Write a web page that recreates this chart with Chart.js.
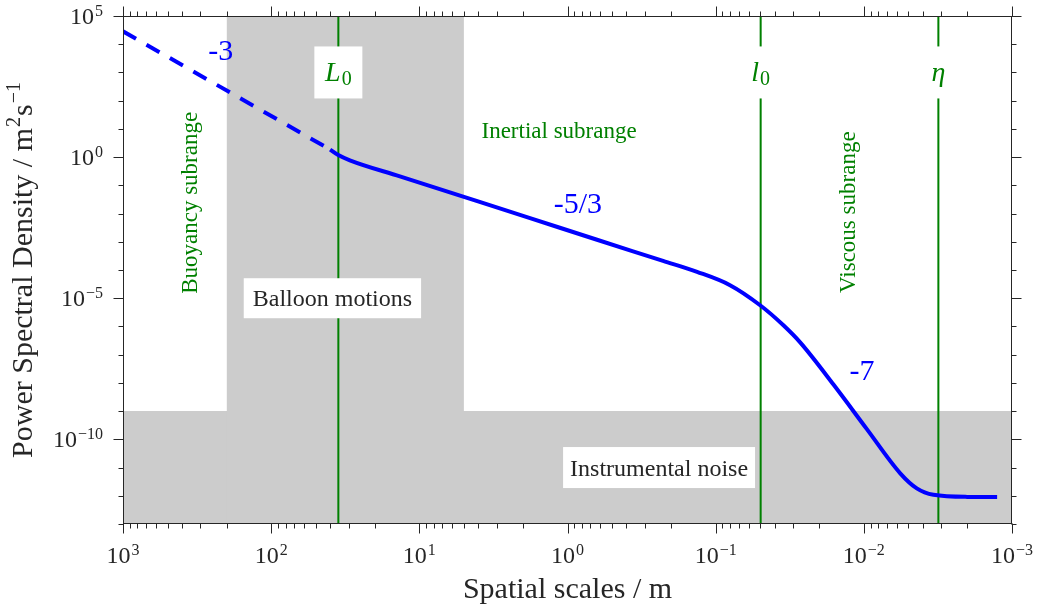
<!DOCTYPE html>
<html>
<head>
<meta charset="utf-8">
<title>Power spectral density vs spatial scale</title>
<script src="https://cdn.jsdelivr.net/npm/chart.js@4.4.1/dist/chart.umd.min.js"></script>
<style>
  html, body { margin: 0; padding: 0; background: #ffffff; }
  #wrap { width: 1039px; height: 608px; }
</style>
</head>
<body>
<div id="wrap"><canvas id="psd" width="1039" height="608"></canvas></div>
<script>
// Model turbulence spectrum: spatial scale (m) -> power spectral density (m^2 s^-1)
const spatialScale = [40, 35.5, 29.44, 13.53, 5.0, 1.79, 0.632, 0.2265, 0.1335, 0.080, 0.0501,
  0.0349, 0.0269, 0.01603, 0.00954, 0.00568, 0.00439, 0.00339, 0.00201, 0.00126];
const spectralDensity = [1.85, 1.21, 0.773, 0.2085, 0.0389, 0.00687, 0.00118, 2.10e-4, 8.6e-5, 2.9e-5, 5.64e-6,
  1.10e-6, 2.73e-7, 8.77e-9, 2.30e-10, 6.26e-12, 1.83e-12, 1.08e-12, 9.14e-13, 9.1e-13];

// Buoyancy range extension (k^-3), drawn dashed
const buoyancyScale = [1000, 40];
const buoyancyDensity = [28600, 1.85];

// Characteristic scales (m): outer scale L0, inner scale l0, Kolmogorov scale eta
const outerScale = 35.2;
const innerScale = 0.0497;
const kolmogorovScale = 0.00314;

// Shaded regions
const balloonRange = [200, 5];     // scales affected by balloon motions (m)
const noiseFloor = 1e-9;           // instrumental noise level

// Axis limits and labelled decades
const xLimits = [1e-3, 1e3];
const yLimits = [1e-13, 1e5];
const xTickExponents = [3, 2, 1, 0, -1, -2, -3];
const yTickExponents = [5, 0, -5, -10];

const SERIF = '"Liberation Serif", "DejaVu Serif", serif';
const INK = '#262626';
const GREEN = '#008000';
const BLUE = '#0000ff';
const SHADE = '#cccccc';

const pts = (xs, ys) => xs.map((x, i) => ({ x, y: ys[i] }));
const vline = (x) => [{ x, y: yLimits[1] }, { x, y: yLimits[0] }];

function fontOf(size, italic) {
  return (italic ? 'italic ' : '') + size + 'px ' + SERIF;
}

// Draws a run of text pieces (with sub/superscripts) starting at x or centred on it.
function drawRich(ctx, segs, x, baseline, align) {
  let w = 0;
  segs.forEach(s => { ctx.font = fontOf(s.size, s.italic); s.w = ctx.measureText(s.t).width; w += s.w + (s.gap || 0); });
  let xx = align === 'center' ? x - w / 2 : align === 'right' ? x - w : x;
  ctx.textAlign = 'left';
  ctx.textBaseline = 'alphabetic';
  segs.forEach(s => {
    xx += (s.gap || 0);
    ctx.font = fontOf(s.size, s.italic);
    ctx.fillText(s.t, xx, baseline + (s.dy || 0));
    xx += s.w;
  });
  return w;
}

function powerSegs(exp) {
  const sup = exp < 0 ? '\u2212' + Math.abs(exp) : String(exp);
  return [{ t: '10', size: 24 }, { t: sup, size: 16, dy: -8, gap: 1 }];
}

// Text labels placed in data coordinates
const notes = [
  { segs: [{ t: '-3', size: 30 }], x: 219, y: 6.5e3, color: BLUE },
  { segs: [{ t: '-5/3', size: 30 }], x: 0.85, y: 0.024, color: BLUE },
  { segs: [{ t: '-7', size: 30 }], x: 0.0103, y: 2.75e-8, color: BLUE },
  { segs: [{ t: 'Inertial subrange', size: 23 }], x: 1.14, y: 11, color: GREEN },
  { segs: [{ t: 'Buoyancy subrange', size: 23 }], x: 353, y: 0.024, color: GREEN, rotate: true },
  { segs: [{ t: 'Viscous subrange', size: 23 }], x: 0.0128, y: 0.0112, color: GREEN, rotate: true },
];

const boxedNotes = [
  { segs: [{ t: 'Balloon motions', size: 24 }], x: 38.6, y: 1e-5, color: INK, pad: 9, h: 40 },
  { segs: [{ t: 'Instrumental noise', size: 24 }], x: 0.241, y: 1e-11, color: INK, pad: 7, h: 41 },
];

const scaleMarks = [
  { segs: [{ t: 'L', size: 28, italic: true }, { t: '0', size: 20, dy: 4, gap: 1 }], x: outerScale, y: 1e3 },
  { segs: [{ t: 'l', size: 28, italic: true }, { t: '0', size: 20, dy: 4, gap: 1 }], x: innerScale, y: 1e3 },
  { segs: [{ t: '\u03b7', size: 28, italic: true }], x: kolmogorovScale, y: 1e3 },
];

const decorPlugin = {
  id: 'decor',
  afterDatasetsDraw(chart) {
    const { ctx, chartArea: a, scales: { x, y } } = chart;
    ctx.save();

    // boxed region labels
    boxedNotes.forEach(n => {
      const cx = x.getPixelForValue(n.x), cy = y.getPixelForValue(n.y);
      let w = 0;
      n.segs.forEach(s => { ctx.font = fontOf(s.size, s.italic); w += ctx.measureText(s.t).width; });
      ctx.fillStyle = '#ffffff';
      ctx.fillRect(cx - w / 2 - n.pad, cy - n.h / 2, w + 2 * n.pad, n.h);
      ctx.fillStyle = n.color;
      drawRich(ctx, n.segs, cx, cy + 8, 'center');
    });

    // characteristic-scale labels sitting on the vertical lines
    scaleMarks.forEach(m => {
      const cx = x.getPixelForValue(m.x), cy = y.getPixelForValue(m.y);
      ctx.fillStyle = '#ffffff';
      ctx.fillRect(cx - 24, cy - 26, 48, 52);
      ctx.fillStyle = GREEN;
      drawRich(ctx, m.segs, cx, cy + 9, 'center');
    });

    // slope and range annotations
    notes.forEach(n => {
      const cx = x.getPixelForValue(n.x), cy = y.getPixelForValue(n.y);
      ctx.fillStyle = n.color;
      if (n.rotate) {
        ctx.save();
        ctx.translate(cx, cy);
        ctx.rotate(-Math.PI / 2);
        drawRich(ctx, n.segs, 0, 7, 'center');
        ctx.restore();
      } else {
        drawRich(ctx, n.segs, cx, cy + 10, 'center');
      }
    });

    // axes box
    ctx.strokeStyle = INK;
    ctx.lineWidth = 1;
    const L = Math.round(a.left) + 0.5, R = Math.round(a.right) - 0.5;
    const T = Math.round(a.top) + 0.5, B = Math.round(a.bottom) - 0.5;
    ctx.strokeRect(L, T, R - L, B - T);

    // x ticks (outward, top and bottom)
    ctx.beginPath();
    const e0 = Math.log10(xLimits[0]), e1 = Math.log10(xLimits[1]);
    for (let e = e0; e <= e1; e++) {
      for (let m = 1; m <= 9; m++) {
        if (e === e1 && m > 1) break;
        const v = m * Math.pow(10, e);
        const px = Math.round(x.getPixelForValue(v)) + 0.5;
        const len = m === 1 ? 10 : 5;
        ctx.moveTo(px, B); ctx.lineTo(px, B + len);
        ctx.moveTo(px, T); ctx.lineTo(px, T - len);
      }
    }
    // y ticks (outward, left and right), one per decade
    const f0 = Math.log10(yLimits[0]), f1 = Math.log10(yLimits[1]);
    for (let e = f0; e <= f1; e++) {
      const py = Math.round(y.getPixelForValue(Math.pow(10, e))) + 0.5;
      const len = yTickExponents.includes(e) ? 10 : 5;
      ctx.moveTo(L, py); ctx.lineTo(L - len, py);
      ctx.moveTo(R, py); ctx.lineTo(R + len, py);
    }
    ctx.stroke();

    // tick labels
    ctx.fillStyle = INK;
    xTickExponents.forEach(e => {
      const px = x.getPixelForValue(Math.pow(10, e));
      drawRich(ctx, powerSegs(e), px, 563, 'center');
    });
    yTickExponents.forEach(e => {
      const py = y.getPixelForValue(Math.pow(10, e));
      drawRich(ctx, powerSegs(e), a.left - 20, py + 8, 'right');
    });

    // axis titles
    drawRich(ctx, [{ t: 'Spatial scales / m', size: 30 }], (a.left + a.right) / 2, 598, 'center');
    ctx.save();
    ctx.translate(32, (a.top + a.bottom) / 2);
    ctx.rotate(-Math.PI / 2);
    drawRich(ctx, [
      { t: 'Power Spectral Density / m', size: 30 },
      { t: '2', size: 20, dy: -12, gap: 1 },
      { t: 's', size: 30, gap: 1 },
      { t: '\u22121', size: 20, dy: -12, gap: 1 },
    ], 0, 0, 'center');
    ctx.restore();

    ctx.restore();
  }
};

new Chart(document.getElementById('psd'), {
  type: 'line',
  data: {
    datasets: [
      {
        label: 'Spectrum',
        data: pts(spatialScale, spectralDensity),
        borderColor: BLUE, borderWidth: 4, pointRadius: 0,
        cubicInterpolationMode: 'monotone', fill: false, order: 0,
      },
      {
        label: 'Buoyancy extension',
        data: pts(buoyancyScale, buoyancyDensity),
        borderColor: BLUE, borderWidth: 4, borderDash: [15, 12], pointRadius: 0,
        fill: false, order: 1,
      },
      { label: 'L0', data: vline(outerScale), borderColor: GREEN, borderWidth: 2, pointRadius: 0, fill: false, order: 2 },
      { label: 'l0', data: vline(innerScale), borderColor: GREEN, borderWidth: 2, pointRadius: 0, fill: false, order: 2 },
      { label: 'eta', data: vline(kolmogorovScale), borderColor: GREEN, borderWidth: 2, pointRadius: 0, fill: false, order: 2 },
      {
        label: 'Balloon motions',
        data: [{ x: balloonRange[0], y: yLimits[1] }, { x: balloonRange[1], y: yLimits[1] }],
        borderWidth: 0, borderColor: 'rgba(0,0,0,0)', backgroundColor: SHADE, pointRadius: 0,
        fill: { value: yLimits[0] }, order: 10,
      },
      {
        label: 'Instrumental noise',
        data: [{ x: xLimits[1], y: noiseFloor }, { x: xLimits[0], y: noiseFloor }],
        borderWidth: 0, borderColor: 'rgba(0,0,0,0)', backgroundColor: SHADE, pointRadius: 0,
        fill: { value: yLimits[0] }, order: 10,
      },
    ]
  },
  options: {
    responsive: false,
    animation: false,
    devicePixelRatio: 1,
    layout: { padding: { left: 123, right: 27, top: 16, bottom: 84 } },
    plugins: { legend: { display: false }, tooltip: { enabled: false } },
    scales: {
      x: { type: 'logarithmic', reverse: true, min: xLimits[0], max: xLimits[1], display: false },
      y: { type: 'logarithmic', min: yLimits[0], max: yLimits[1], display: false },
    }
  },
  plugins: [decorPlugin]
});
</script>
</body>
</html>
